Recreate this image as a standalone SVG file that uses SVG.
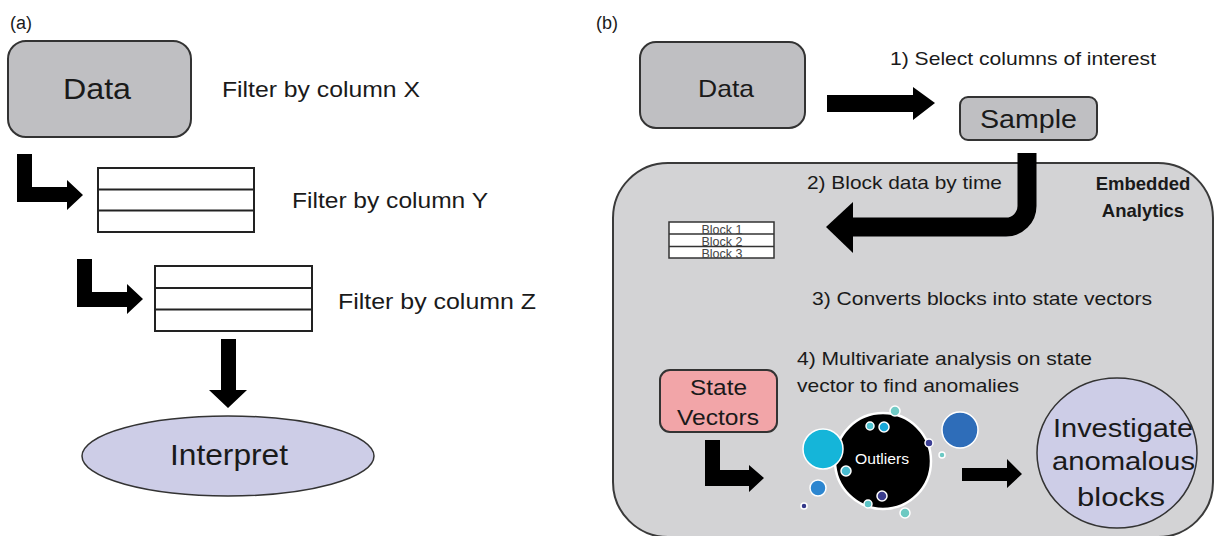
<svg xmlns="http://www.w3.org/2000/svg" width="1216" height="536" viewBox="0 0 1216 536">
<style>
  text { font-family: "Liberation Sans", Arial, sans-serif; fill: #1a1a1a; }
  .box { fill: #bfbfc2; stroke: #333; stroke-width: 2; }
  .tbl { fill: #fff; stroke: #222; stroke-width: 2; }
  .lav { fill: #cdcde7; stroke: #333; stroke-width: 1.5; }
  .arr { fill: #000; stroke: none; }
  .dot { stroke: #fff; stroke-width: 1.5; }
  .blk { fill: #444; font-size: 12.5px; }
</style>
<rect width="1216" height="536" fill="#fff"/>

<!-- panel labels -->
<text x="10" y="29" font-size="18">(a)</text>
<text x="596" y="29" font-size="18">(b)</text>

<!-- Panel (a) -->
<g id="a-data">
  <rect class="box" x="8" y="41" width="183" height="96" rx="18"/>
  <text x="63" y="99" font-size="29" textLength="68" lengthAdjust="spacingAndGlyphs">Data</text>
</g>
<g id="a-filter-x">
  <text x="222" y="97" font-size="22" textLength="198" lengthAdjust="spacingAndGlyphs">Filter by column X</text>
</g>
<g id="a-table1">
  <rect class="tbl" x="98" y="168" width="156" height="64"/>
  <line x1="98" y1="189.5" x2="254" y2="189.5" stroke="#222" stroke-width="2"/>
  <line x1="98" y1="210.5" x2="254" y2="210.5" stroke="#222" stroke-width="2"/>
</g>
<g id="a-filter-y">
  <text x="292" y="208" font-size="22" textLength="196" lengthAdjust="spacingAndGlyphs">Filter by column Y</text>
</g>
<g id="a-table2">
  <rect class="tbl" x="155" y="266" width="157" height="65"/>
  <line x1="155" y1="288" x2="312" y2="288" stroke="#222" stroke-width="2"/>
  <line x1="155" y1="309.5" x2="312" y2="309.5" stroke="#222" stroke-width="2"/>
</g>
<g id="a-filter-z">
  <text x="338" y="309" font-size="22" textLength="198" lengthAdjust="spacingAndGlyphs">Filter by column Z</text>
</g>
<g id="a-interpret">
  <ellipse class="lav" cx="228" cy="456" rx="146" ry="40"/>
  <text x="170" y="465" font-size="29" textLength="118" lengthAdjust="spacingAndGlyphs">Interpret</text>
</g>

<!-- Panel (b) -->
<g id="b-embedded">
  <rect x="613" y="163" width="600" height="374" rx="55" fill="#d3d3d5" stroke="#3a3a3a" stroke-width="2"/>
  <text x="1143" y="190" font-size="18.5" font-weight="bold" text-anchor="middle">Embedded</text>
  <text x="1143" y="217" font-size="18.5" font-weight="bold" text-anchor="middle">Analytics</text>
</g>
<g id="b-data">
  <rect class="box" x="640" y="42" width="165" height="86" rx="16"/>
  <text x="698" y="97" font-size="24" textLength="56" lengthAdjust="spacingAndGlyphs">Data</text>
</g>
<g id="b-step1">
  <text x="890" y="65" font-size="19" textLength="266" lengthAdjust="spacingAndGlyphs">1) Select columns of interest</text>
</g>
<g id="b-sample">
  <rect class="box" x="960" y="97" width="137" height="43" rx="8"/>
  <text x="980" y="128" font-size="25" textLength="97" lengthAdjust="spacingAndGlyphs">Sample</text>
</g>
<g id="b-step2">
  <text x="807" y="189" font-size="19" textLength="195" lengthAdjust="spacingAndGlyphs">2) Block data by time</text>
</g>
<g id="b-blocks">
  <rect x="669" y="222" width="105" height="36" fill="#fff" stroke="#333" stroke-width="1.5"/>
  <line x1="669" y1="234" x2="774" y2="234" stroke="#333" stroke-width="1.5"/>
  <line x1="669" y1="246.5" x2="774" y2="246.5" stroke="#333" stroke-width="1.5"/>
  <text class="blk" x="722" y="233.5" text-anchor="middle">Block 1</text>
  <text class="blk" x="722" y="245.5" text-anchor="middle">Block 2</text>
  <text class="blk" x="722" y="257.5" text-anchor="middle">Block 3</text>
</g>
<g id="b-step3">
  <text x="812" y="305" font-size="19" textLength="340" lengthAdjust="spacingAndGlyphs">3) Converts blocks into state vectors</text>
</g>
<g id="b-step4">
  <text x="797" y="365" font-size="19" textLength="295" lengthAdjust="spacingAndGlyphs">4) Multivariate analysis on state</text>
  <text x="797" y="392" font-size="19" textLength="222" lengthAdjust="spacingAndGlyphs">vector to find anomalies</text>
</g>
<g id="b-state-vectors">
  <rect x="660" y="370" width="117" height="62" rx="10" fill="#f2a5a8" stroke="#333" stroke-width="2"/>
  <text x="690" y="395" font-size="22" textLength="57" lengthAdjust="spacingAndGlyphs">State</text>
  <text x="677" y="425" font-size="22" textLength="82" lengthAdjust="spacingAndGlyphs">Vectors</text>
</g>
<g id="b-outliers">
  <circle cx="883" cy="461" r="48" fill="#000" stroke="#fff" stroke-width="2.5"/>
  <circle class="dot" cx="823" cy="449" r="20" fill="#15b5d9" stroke-width="2"/>
  <circle class="dot" cx="960" cy="430" r="18" fill="#2e6db9" stroke-width="2"/>
  <circle class="dot" cx="818" cy="488" r="8" fill="#2c86d0"/>
  <circle class="dot" cx="804" cy="506" r="3" fill="#34388a"/>
  <circle class="dot" cx="895" cy="411" r="5" fill="#71cbc6"/>
  <circle class="dot" cx="870" cy="426" r="4" fill="#4ec3d0"/>
  <circle class="dot" cx="884" cy="427" r="5" fill="#1aa7d8"/>
  <circle class="dot" cx="929" cy="443" r="4" fill="#3c3f95"/>
  <circle class="dot" cx="942" cy="455" r="3" fill="#6cc9c4"/>
  <circle class="dot" cx="846" cy="471" r="5" fill="#49bcd0"/>
  <circle class="dot" cx="882" cy="496" r="5" fill="#3b3d8e"/>
  <circle class="dot" cx="868" cy="504" r="4" fill="#5cc3c6"/>
  <circle class="dot" cx="905" cy="513" r="5" fill="#6dc9c2"/>
  <text x="855" y="464" font-size="14" fill="#fff" style="fill:#fff" textLength="54" lengthAdjust="spacingAndGlyphs">Outliers</text>
</g>
<g id="b-investigate">
  <ellipse class="lav" cx="1117" cy="453" rx="80" ry="75"/>
  <text x="1053" y="437" font-size="26" textLength="140" lengthAdjust="spacingAndGlyphs">Investigate</text>
  <text x="1052" y="470" font-size="26" textLength="143" lengthAdjust="spacingAndGlyphs">anomalous</text>
  <text x="1077" y="506" font-size="26" textLength="88" lengthAdjust="spacingAndGlyphs">blocks</text>
</g>

<!-- connectors -->
<g id="connectors">
  <polygon class="arr" points="17,154 32,154 32,187 67,187 67,180 83,195 67,210 67,202 17,202"/>
  <polygon class="arr" points="77,259 92,259 92,292 127,292 127,284 143,299 127,314 127,307 77,307"/>
  <polygon class="arr" points="221,339 236,339 236,390 247,390 228,408 209,390 221,390"/>
  <polygon class="arr" points="827,95 913,95 913,87 935,103 913,120 913,112 827,112"/>
  <path d="M1027 153 V206 A21 21 0 0 1 1006 227 H851" fill="none" stroke="#000" stroke-width="19"/>
  <polygon class="arr" points="853,202 826,227 853,253"/>
  <polygon class="arr" points="705,440 720,440 720,470 749,470 749,465 764,478 749,492 749,486 705,486"/>
  <polygon class="arr" points="962,468 1007,468 1007,459 1022,474 1007,488 1007,481 962,481"/>
</g>
</svg>
